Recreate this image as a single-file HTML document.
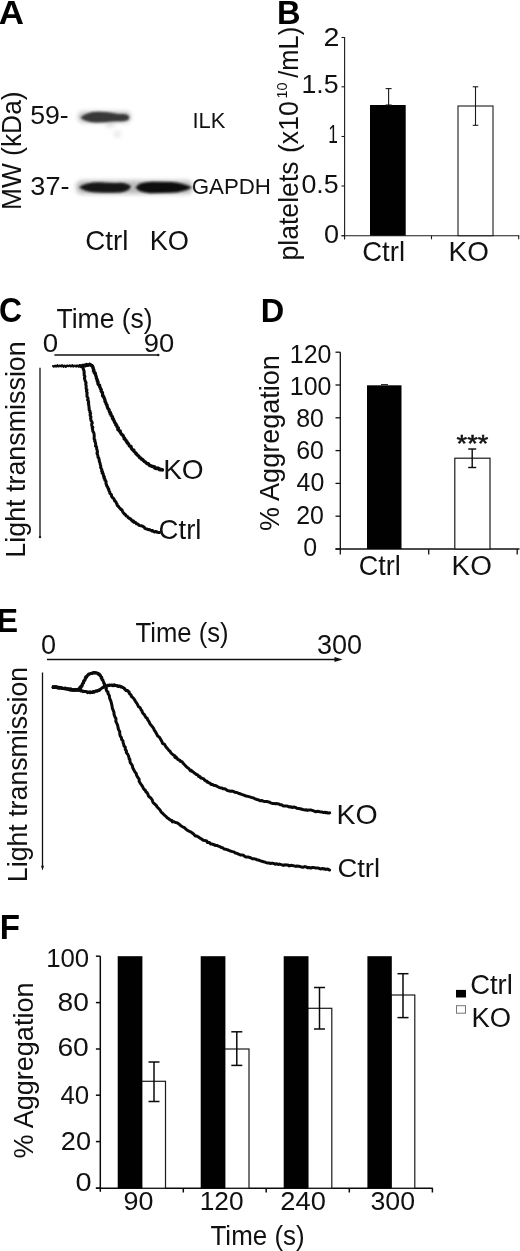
<!DOCTYPE html>
<html><head><meta charset="utf-8"><title>Figure</title>
<style>
html,body{margin:0;padding:0;background:#fff;}
body{width:520px;height:1251px;overflow:hidden;}
svg{display:block;font-family:"Liberation Sans",sans-serif;}
</style></head><body>
<svg width="520" height="1251" viewBox="0 0 520 1251">
<defs>
<filter id="b1" x="-20%" y="-80%" width="140%" height="260%"><feGaussianBlur stdDeviation="1.3"/></filter>
<filter id="b2" x="-20%" y="-80%" width="140%" height="260%"><feGaussianBlur stdDeviation="2.2"/></filter>
</defs>
<rect width="520" height="1251" fill="#fff"/>
<g opacity="0.999">
<text transform="translate(-1.17,23.50) scale(0.3493,0.3401)" font-size="100" font-weight="bold" fill="#000">A</text>
<text transform="translate(21.20,210.11) rotate(-90) scale(0.2641,0.2733)" font-size="100" fill="#111">MW (kDa)</text>
<text transform="translate(30.13,124.30) scale(0.2669,0.2616)" font-size="100" fill="#111">59-</text>
<text transform="translate(30.31,195.00) scale(0.2713,0.2631)" font-size="100" fill="#111">37-</text>
<text transform="translate(192.53,128.00) scale(0.2193,0.2195)" font-size="100" fill="#111">ILK</text>
<text transform="translate(191.68,194.30) scale(0.2231,0.2297)" font-size="100" fill="#111">GAPDH</text>
<text transform="translate(85.31,250.30) scale(0.2771,0.2689)" font-size="100" fill="#111">Ctrl</text>
<text transform="translate(149.72,250.30) scale(0.2722,0.2689)" font-size="100" fill="#111">KO</text>
<g filter="url(#b2)" opacity="0.45">
<rect x="78" y="111.5" width="53" height="11" rx="5" fill="#777"/>
<rect x="76" y="180.5" width="117" height="13.5" rx="6" fill="#666"/>
<ellipse cx="117.5" cy="134" rx="3.5" ry="3.5" fill="#ccc"/>
<ellipse cx="110" cy="125" rx="4" ry="2" fill="#aaa"/>
</g>
<g filter="url(#b1)">
<path d="M80.5,117.6 Q87,111.6 99,111.8 Q111,112.4 118,113.9 L124,114 Q129.3,114.8 129.3,117.8 Q128.8,121 123,121.2 L112,121.6 Q100,123 92,122.2 Q84,121.2 80.5,117.6 Z" fill="#383838"/>
<path d="M79,187.3 Q86,182 100,182.2 Q112,183.3 120,182.7 Q128.5,183 131,186.6 Q129,191.8 120,192.4 Q108,193.2 98,192.6 Q86,192.6 79,187.3 Z" fill="#181818"/>
<path d="M135.5,187.5 Q139,182 152,181.7 L172,182 Q184,183 192,187.6 Q184,192.2 172,192.8 L150,193.2 Q139,192.6 135.5,187.5 Z" fill="#0e0e0e"/>
</g>
<text transform="translate(277.08,23.50) scale(0.3262,0.3401)" font-size="100" font-weight="bold" fill="#000">B</text>
<line x1="344.60" y1="37.00" x2="344.60" y2="239.50" stroke="#1a1a1a" stroke-width="1.1"/>
<line x1="341.50" y1="235.70" x2="519.30" y2="235.70" stroke="#1a1a1a" stroke-width="1.1"/>
<line x1="341.50" y1="37.50" x2="344.60" y2="37.50" stroke="#1a1a1a" stroke-width="1.1"/>
<text transform="translate(323.57,45.50) scale(0.2857,0.2616)" font-size="100" fill="#111">2</text>
<line x1="341.50" y1="86.80" x2="344.60" y2="86.80" stroke="#1a1a1a" stroke-width="1.1"/>
<text transform="translate(301.49,92.50) scale(0.2675,0.2616)" font-size="100" fill="#111">1.5</text>
<line x1="341.50" y1="136.50" x2="344.60" y2="136.50" stroke="#1a1a1a" stroke-width="1.1"/>
<text transform="translate(328.21,142.50) scale(0.1724,0.2616)" font-size="100" fill="#111">1</text>
<line x1="341.50" y1="186.00" x2="344.60" y2="186.00" stroke="#1a1a1a" stroke-width="1.1"/>
<text transform="translate(301.43,192.50) scale(0.2679,0.2616)" font-size="100" fill="#111">0.5</text>
<line x1="341.50" y1="235.70" x2="344.60" y2="235.70" stroke="#1a1a1a" stroke-width="1.1"/>
<text transform="translate(323.92,243.00) scale(0.2708,0.2616)" font-size="100" fill="#111">0</text>
<line x1="431.50" y1="235.70" x2="431.50" y2="239.30" stroke="#1a1a1a" stroke-width="1.1"/>
<line x1="518.70" y1="235.70" x2="518.70" y2="239.30" stroke="#1a1a1a" stroke-width="1.1"/>
<rect x="370.00" y="105.00" width="35.70" height="130.70" fill="#000"/>
<line x1="388.60" y1="88.60" x2="388.60" y2="105.00" stroke="#1a1a1a" stroke-width="1.1"/>
<line x1="385.60" y1="88.60" x2="391.60" y2="88.60" stroke="#1a1a1a" stroke-width="1.1"/>
<line x1="385.60" y1="105.00" x2="391.60" y2="105.00" stroke="#1a1a1a" stroke-width="1.1"/>
<rect x="458.00" y="106.00" width="35.00" height="129.70" fill="#fff" stroke="#1a1a1a" stroke-width="1.1"/>
<line x1="475.50" y1="86.80" x2="475.50" y2="125.30" stroke="#1a1a1a" stroke-width="1.1"/>
<line x1="472.75" y1="86.80" x2="478.25" y2="86.80" stroke="#1a1a1a" stroke-width="1.1"/>
<line x1="472.75" y1="125.30" x2="478.25" y2="125.30" stroke="#1a1a1a" stroke-width="1.1"/>
<text transform="translate(362.23,261.20) scale(0.2750,0.2704)" font-size="100" fill="#111">Ctrl</text>
<text transform="translate(448.57,261.20) scale(0.2783,0.2747)" font-size="100" fill="#111">KO</text>
<text transform="translate(298.00,260.53) rotate(-90) scale(0.2662,0.2718)" font-size="100" fill="#111">platelets</text>
<text transform="translate(298.00,153.11) rotate(-90) scale(0.2681,0.2718)" font-size="100" fill="#111">(x10</text>
<text transform="translate(286.50,98.48) rotate(-90) scale(0.1440,0.1497)" font-size="100" fill="#111">10</text>
<text transform="translate(298.30,77.70) rotate(-90) scale(0.2543,0.2733)" font-size="100" fill="#111">/mL)</text>
<text transform="translate(-0.98,322.10) scale(0.3191,0.3416)" font-size="100" font-weight="bold" fill="#000">C</text>
<text transform="translate(56.47,327.80) scale(0.2652,0.2733)" font-size="100" fill="#111">Time (s)</text>
<text transform="translate(42.69,351.60) scale(0.2771,0.2616)" font-size="100" fill="#111">0</text>
<text transform="translate(143.77,352.00) scale(0.2738,0.2616)" font-size="100" fill="#111">90</text>
<line x1="54.40" y1="355.00" x2="158.00" y2="355.00" stroke="#111" stroke-width="1.3"/>
<circle cx="158.2" cy="355" r="1.3" fill="#1a1a1a"/>
<line x1="40.00" y1="367.70" x2="40.00" y2="537.00" stroke="#111" stroke-width="1.3"/>
<circle cx="40" cy="537" r="1.2" fill="#1a1a1a"/>
<text transform="translate(25.00,557.65) rotate(-90) scale(0.2687,0.2791)" font-size="100" fill="#111">Light transmission</text>
<text transform="translate(163.16,479.20) scale(0.2806,0.2791)" font-size="100" fill="#111">KO</text>
<text transform="translate(158.62,538.50) scale(0.2757,0.2689)" font-size="100" fill="#111">Ctrl</text>
<path d="M53.0,366.0 L53.8,366.7 L54.5,365.9 L55.2,365.6 L56.0,366.7 L56.8,366.0 L57.5,365.1 L58.2,366.5 L59.0,366.4 L59.8,365.5 L60.5,365.8 L61.2,366.5 L62.0,365.2 L62.8,365.9 L63.5,366.8 L64.2,365.5 L65.0,365.7 L65.8,366.9 L66.5,366.4 L67.2,365.4 L68.0,366.0 L68.8,366.2 L69.5,365.4 L70.2,365.5 L71.0,366.5 L71.8,365.6 L72.5,365.1 L73.2,366.6 L74.0,366.1 L74.8,365.5 L75.5,366.3 L76.2,366.6 L77.0,365.4 L77.8,366.0 L78.5,366.7 L79.2,365.5 L80.0,365.9 L80.8,367.0 L81.5,366.3 L82.2,365.5" fill="none" stroke="#0a0a0a" stroke-width="2.1" stroke-linejoin="round" stroke-linecap="round"/>
<path d="M81.7,366.0 L82.1,366.1 L82.7,365.4 L82.4,366.2 L83.0,365.4 L84.3,365.6 L84.6,365.5 L84.8,365.1 L85.3,365.8 L85.6,365.5 L86.2,364.7 L86.7,365.2 L86.6,364.5 L87.6,364.9 L87.9,365.3 L88.3,365.2 L88.4,365.0 L88.8,365.1 L89.7,364.2 L89.3,364.3 L90.5,364.6 L90.4,364.6 L90.6,364.7 L90.7,365.0 L91.2,365.5 L91.5,365.7 L91.9,365.9 L91.9,365.3 L92.4,366.5 L92.7,366.5 L92.7,366.7 L93.2,367.8 L92.9,368.0 L93.9,370.0 L93.4,370.8 L94.1,371.1 L94.3,372.9 L95.3,373.2 L95.4,374.3 L95.9,375.8 L96.4,377.5 L96.4,378.6 L96.6,378.6 L97.3,379.6 L97.2,381.1 L98.1,381.8 L97.9,383.7 L98.6,384.8 L99.6,385.3 L99.6,386.5 L100.2,387.6 L100.5,388.7 L101.3,389.6 L101.1,390.8 L101.3,391.4 L102.5,392.7 L102.4,393.2 L102.7,394.8 L102.6,395.9 L103.7,396.4 L104.1,398.0 L104.6,399.0 L105.1,400.6 L104.9,401.1 L106.1,403.3 L106.1,404.0 L107.0,405.1 L107.2,406.4 L107.7,407.9 L108.1,408.8 L109.0,409.5 L109.3,411.3 L109.4,411.7 L110.4,412.6 L110.1,413.8 L111.1,414.3 L111.1,415.4 L112.1,416.4 L112.5,416.9 L112.4,418.3 L113.4,418.9 L113.1,419.5 L113.9,420.4 L114.7,422.0 L114.4,422.2 L115.6,423.5 L116.0,424.0 L115.7,424.8 L116.9,425.6 L116.9,426.6 L117.4,427.4 L118.4,427.9 L117.8,429.6 L119.2,430.4 L119.2,431.1 L120.2,431.0 L120.4,432.4 L120.8,432.8 L120.8,433.3 L121.2,433.8 L122.1,434.8 L122.9,435.2 L123.5,436.7 L124.0,437.7 L124.6,438.1 L124.2,439.0 L124.9,439.3 L126.0,440.3 L126.3,441.5 L127.1,441.6 L127.2,442.9 L128.0,443.6 L128.4,443.7 L129.1,445.1 L129.3,445.8 L130.6,446.6 L131.0,446.5 L131.4,448.1 L131.3,448.2 L132.1,449.3 L132.9,450.0 L133.9,450.2 L133.8,451.1 L134.6,451.9 L136.3,453.5 L136.0,453.9 L137.0,454.5 L137.8,455.6 L138.7,456.0 L139.0,456.7 L139.6,457.6 L140.9,458.0 L140.8,458.3 L141.7,459.3 L142.8,459.6 L143.4,460.4 L143.5,460.6 L144.2,461.4 L144.7,461.8 L145.3,461.8 L146.0,462.7 L146.2,462.9 L147.2,463.8 L148.4,463.7 L149.0,464.6 L149.0,464.6 L149.5,465.4 L150.8,465.9 L151.6,466.0 L152.1,466.2 L152.1,466.6 L152.5,466.4 L154.0,466.6 L153.8,466.9 L155.2,467.2 L154.8,468.2 L155.5,468.4 L156.6,468.6 L157.4,468.5 L157.8,468.1 L158.3,468.8 L158.8,468.5 L159.4,469.6 L159.2,469.1 L160.3,469.8 L160.6,469.2 L161.1,469.8 L162.2,469.6 L162.2,469.7 L162.5,469.8 L162.5,470.0" fill="none" stroke="#0a0a0a" stroke-width="3.3" stroke-linejoin="round" stroke-linecap="round"/>
<path d="M79.7,365.6 L80.0,365.7 L79.9,366.0 L81.0,366.4 L81.1,365.8 L81.2,365.9 L81.1,365.8 L81.5,366.7 L82.4,366.8 L82.6,366.4 L82.3,367.1 L82.9,367.7 L83.2,367.3 L83.1,368.3 L83.1,368.3 L83.2,368.7 L83.8,370.1 L83.6,370.2 L84.1,371.2 L84.2,372.4 L84.0,372.9 L84.3,374.0 L84.1,375.2 L84.9,376.3 L84.4,378.4 L84.9,379.9 L85.3,381.3 L86.1,382.7 L85.7,384.3 L86.2,385.9 L86.1,387.7 L86.3,388.9 L87.0,389.7 L86.4,391.1 L87.2,392.8 L86.9,393.7 L87.0,395.1 L87.0,396.5 L88.0,398.0 L88.1,399.2 L87.5,399.8 L88.7,401.5 L88.3,403.0 L88.7,404.1 L88.6,404.7 L88.9,405.9 L89.1,408.0 L89.2,408.3 L89.1,409.7 L90.1,411.2 L89.8,412.1 L90.7,413.6 L90.1,414.4 L90.2,415.7 L91.0,416.8 L90.6,418.3 L91.0,420.0 L91.0,420.6 L91.9,421.7 L92.3,422.9 L91.7,423.9 L91.7,425.0 L92.1,426.6 L92.9,427.3 L92.2,428.1 L92.6,429.2 L92.8,430.9 L92.8,431.2 L93.8,432.8 L94.0,433.8 L94.2,435.2 L94.2,436.4 L94.2,436.9 L94.1,438.9 L95.0,440.1 L94.6,441.0 L95.3,442.2 L95.6,443.3 L95.7,444.7 L95.5,446.2 L96.5,446.6 L96.7,448.7 L96.7,449.1 L97.2,450.5 L97.5,452.4 L96.9,453.2 L97.7,455.0 L98.1,456.6 L97.9,457.0 L98.9,458.3 L99.1,459.6 L99.4,461.5 L99.7,462.4 L100.1,463.2 L100.2,464.5 L100.8,466.0 L100.7,466.9 L100.6,467.4 L101.5,468.9 L102.0,470.1 L101.6,470.9 L102.6,472.0 L102.1,473.2 L103.2,473.4 L103.2,474.6 L103.7,475.3 L103.5,476.4 L104.5,476.8 L104.0,478.3 L105.0,479.1 L104.9,480.4 L105.6,480.6 L106.1,481.7 L105.9,483.5 L106.5,484.5 L106.6,485.7 L107.0,486.1 L107.8,487.4 L108.2,489.0 L108.8,489.1 L108.8,490.5 L109.4,491.6 L109.8,491.8 L109.9,493.3 L110.4,494.0 L111.4,494.5 L111.5,495.2 L111.5,496.2 L112.1,496.9 L112.4,497.6 L113.3,498.1 L113.4,498.4 L114.2,499.4 L114.5,499.9 L114.4,500.7 L115.6,501.5 L116.2,502.5 L116.4,503.3 L117.0,503.8 L117.3,505.4 L117.7,506.0 L118.5,506.4 L118.8,507.0 L120.4,508.7 L121.0,509.6 L121.9,509.8 L122.3,511.0 L123.0,512.3 L123.9,513.2 L123.9,513.6 L125.2,514.4 L125.8,515.2 L126.1,515.9 L126.8,516.2 L127.8,516.8 L127.8,516.9 L128.4,517.8 L129.7,518.6 L129.7,518.5 L130.7,518.9 L130.9,519.1 L131.3,520.1 L132.4,520.6 L132.7,521.4 L133.6,521.0 L133.7,522.2 L135.2,522.6 L135.5,522.4 L135.7,522.7 L136.5,523.8 L137.9,524.1 L137.9,524.0 L138.9,525.2 L139.6,525.5 L141.1,525.7 L142.2,525.9 L142.7,526.3 L143.2,526.6 L144.2,527.1 L144.8,528.4 L145.8,528.7 L146.9,528.9 L147.5,529.4 L148.3,529.4 L148.6,529.7 L149.3,529.8 L149.7,529.6 L150.5,530.2 L150.3,530.1 L151.7,530.4 L151.9,531.0 L153.1,530.8 L153.3,531.1 L153.8,531.7 L154.6,532.0 L155.5,531.4 L157.0,532.2 L157.1,532.0 L158.0,532.3 L158.3,532.5 L159.5,532.5" fill="none" stroke="#0a0a0a" stroke-width="3.0" stroke-linejoin="round" stroke-linecap="round"/>
<text transform="translate(260.69,322.00) scale(0.3252,0.3358)" font-size="100" font-weight="bold" fill="#000">D</text>
<line x1="340.30" y1="352.20" x2="340.30" y2="554.50" stroke="#111" stroke-width="1.3"/>
<line x1="335.50" y1="549.00" x2="519.50" y2="549.00" stroke="#111" stroke-width="1.3"/>
<line x1="335.50" y1="352.20" x2="340.30" y2="352.20" stroke="#111" stroke-width="1.3"/>
<text transform="translate(289.86,362.60) scale(0.9850,1)" font-size="25.3" fill="#111">120</text>
<line x1="335.50" y1="385.00" x2="340.30" y2="385.00" stroke="#111" stroke-width="1.3"/>
<text transform="translate(289.86,394.60) scale(0.9850,1)" font-size="25.3" fill="#111">100</text>
<line x1="335.50" y1="417.80" x2="340.30" y2="417.80" stroke="#111" stroke-width="1.3"/>
<text transform="translate(296.24,426.60) scale(0.9850,1)" font-size="25.3" fill="#111">80</text>
<line x1="335.50" y1="450.60" x2="340.30" y2="450.60" stroke="#111" stroke-width="1.3"/>
<text transform="translate(296.18,459.00) scale(0.9850,1)" font-size="25.3" fill="#111">60</text>
<line x1="335.50" y1="483.40" x2="340.30" y2="483.40" stroke="#111" stroke-width="1.3"/>
<text transform="translate(296.56,491.40) scale(0.9850,1)" font-size="25.3" fill="#111">40</text>
<line x1="335.50" y1="516.20" x2="340.30" y2="516.20" stroke="#111" stroke-width="1.3"/>
<text transform="translate(296.18,524.00) scale(0.9850,1)" font-size="25.3" fill="#111">20</text>
<line x1="335.50" y1="549.00" x2="340.30" y2="549.00" stroke="#111" stroke-width="1.3"/>
<text transform="translate(303.22,555.80) scale(0.9850,1)" font-size="25.3" fill="#111">0</text>
<line x1="428.70" y1="549.00" x2="428.70" y2="554.50" stroke="#111" stroke-width="1.3"/>
<line x1="517.20" y1="549.00" x2="517.20" y2="554.50" stroke="#111" stroke-width="1.3"/>
<rect x="367.00" y="385.30" width="34.50" height="163.70" fill="#000"/>
<line x1="381.00" y1="384.60" x2="388.00" y2="384.60" stroke="#1a1a1a" stroke-width="1"/>
<rect x="454.80" y="458.20" width="35.20" height="90.80" fill="#fff" stroke="#1a1a1a" stroke-width="1.2"/>
<line x1="472.20" y1="449.00" x2="472.20" y2="467.50" stroke="#0a0a0a" stroke-width="1.4"/>
<line x1="468.20" y1="449.00" x2="476.20" y2="449.00" stroke="#0a0a0a" stroke-width="1.4"/>
<line x1="468.20" y1="467.50" x2="476.20" y2="467.50" stroke="#0a0a0a" stroke-width="1.4"/>
<text stroke="#111" stroke-width="2.2" transform="translate(456.59,451.55) scale(0.2719,0.2457)" font-size="100" fill="#111">***</text>
<text transform="translate(358.75,575.20) scale(0.2701,0.2718)" font-size="100" fill="#111">Ctrl</text>
<text transform="translate(451.57,575.20) scale(0.2791,0.2762)" font-size="100" fill="#111">KO</text>
<text transform="translate(279.00,530.95) rotate(-90) scale(0.2703,0.2791)" font-size="100" fill="#111">% Aggregation</text>
<text transform="translate(-3.61,631.50) scale(0.3239,0.3401)" font-size="100" font-weight="bold" fill="#000">E</text>
<text transform="translate(135.49,642.00) scale(0.2567,0.2762)" font-size="100" fill="#111">Time (s)</text>
<text transform="translate(40.92,653.60) scale(0.2708,0.2791)" font-size="100" fill="#111">0</text>
<text transform="translate(316.92,653.60) scale(0.2704,0.2791)" font-size="100" fill="#111">300</text>
<line x1="47.00" y1="659.50" x2="336.00" y2="659.50" stroke="#111" stroke-width="1.5"/>
<path d="M342.6,659.5 L334.5,657 L334.5,662 Z" fill="#111"/>
<line x1="42.50" y1="672.50" x2="42.50" y2="866.50" stroke="#111" stroke-width="1.3"/>
<path d="M42.5,870.5 L41,865.8 L44,865.8 Z" fill="#111"/>
<text transform="translate(27.30,882.14) rotate(-90) scale(0.2672,0.2791)" font-size="100" fill="#111">Light transmission</text>
<text transform="translate(336.52,823.90) scale(0.2852,0.2747)" font-size="100" fill="#111">KO</text>
<text transform="translate(337.43,877.30) scale(0.2743,0.2631)" font-size="100" fill="#111">Ctrl</text>
<path d="M53.0,687.3 L53.5,687.6 L53.8,687.6 L53.5,687.2 L54.9,687.4 L55.4,686.9 L55.6,687.1 L56.2,687.5 L56.3,687.2 L57.2,688.0 L58.3,687.3 L58.9,687.3 L59.4,687.3 L59.4,688.2 L60.3,687.6 L61.8,688.3 L61.8,688.4 L62.7,688.2 L63.0,688.6 L64.2,688.7 L65.0,688.1 L65.0,688.1 L65.4,688.1 L66.1,688.8 L66.3,689.0 L67.1,688.7 L68.1,689.0 L68.1,689.2 L69.0,688.9 L69.9,688.9 L70.2,689.8 L70.2,689.9 L71.2,689.8 L71.5,689.3 L72.4,690.3 L73.2,690.2 L74.7,690.4 L74.8,689.9 L75.7,690.3 L75.9,690.2 L77.2,690.2 L77.0,690.1 L77.6,689.2 L78.6,689.5 L78.8,689.1 L79.5,688.2 L79.7,687.6 L79.9,687.2 L80.9,687.6 L80.8,686.2 L82.0,686.2 L81.7,685.5 L82.2,685.6 L82.4,684.6 L82.2,684.6 L82.4,683.6 L83.5,682.7 L83.6,683.0 L83.7,682.3 L83.4,681.4 L83.6,681.3 L84.0,680.5 L84.9,680.4 L85.1,679.6 L84.9,679.5 L85.1,678.6 L85.2,678.0 L85.4,678.5 L86.2,677.8 L86.0,677.1 L85.8,676.7 L86.7,676.9 L86.6,676.5 L87.3,676.1 L87.4,675.8 L87.4,675.5 L87.6,675.0 L88.4,674.9 L88.2,674.9 L88.8,674.3 L88.5,674.0 L89.1,674.0 L89.6,674.0 L90.1,673.8 L90.1,673.5 L90.9,673.6 L90.8,673.5 L91.7,673.3 L92.1,673.5 L92.0,673.0 L92.0,673.2 L93.1,672.8 L93.1,673.0 L93.5,672.5 L93.9,672.9 L94.1,672.7 L94.4,673.1 L94.7,673.0 L94.4,672.5 L95.1,673.0 L95.2,673.1 L95.9,672.5 L96.1,672.7 L96.0,672.7 L96.6,672.8 L96.7,672.7 L97.3,673.1 L97.8,673.4 L97.7,673.9 L97.7,673.5 L98.3,673.7 L98.4,674.4 L98.9,673.8 L99.4,674.1 L99.6,674.7 L99.9,675.6 L100.4,675.4 L100.6,676.0 L100.4,675.9 L100.9,676.7 L101.5,677.5 L101.3,677.2 L101.8,677.2 L101.2,678.1 L101.8,678.0 L102.0,679.2 L101.9,679.1 L101.9,679.4 L102.9,680.1 L103.2,681.2 L103.1,681.3 L103.8,682.3 L103.7,682.9 L104.7,684.0 L104.4,684.9 L104.7,686.1 L105.5,686.8 L106.4,688.5 L106.1,689.5 L106.9,691.3 L108.0,692.0 L108.0,693.6 L109.3,695.5 L109.5,697.6 L110.2,699.7 L110.9,701.2 L111.5,703.6 L112.0,705.7 L112.3,708.1 L113.1,710.1 L114.0,712.4 L114.0,714.2 L115.0,717.0 L116.0,718.8 L115.8,721.3 L116.8,723.3 L117.7,725.6 L118.1,728.0 L118.6,729.7 L119.7,731.5 L119.8,734.1 L120.2,736.0 L121.4,737.4 L121.6,739.6 L122.9,740.6 L123.1,742.7 L123.7,744.2 L124.0,746.0 L125.3,747.1 L125.3,749.5 L126.5,751.0 L126.3,752.6 L127.9,754.4 L128.1,755.0 L128.8,756.7 L129.2,758.9 L129.9,759.5 L130.0,761.8 L130.5,763.1 L131.5,764.2 L132.4,765.7 L132.7,767.8 L133.5,769.3 L134.9,771.9 L136.1,773.2 L136.6,775.3 L137.8,777.4 L139.1,779.2 L139.2,781.4 L140.2,783.1 L141.5,785.0 L142.5,786.3 L143.1,787.7 L144.0,789.4 L145.2,790.1 L145.8,791.7 L147.2,792.8 L148.1,794.6 L148.4,796.0 L149.4,796.8 L150.9,798.2 L152.2,799.9 L152.7,801.7 L153.5,803.0 L154.6,803.9 L156.6,805.9 L157.0,806.8 L158.8,808.7 L159.7,809.5 L160.6,811.0 L161.2,812.1 L162.6,813.2 L163.3,814.0 L164.7,815.4 L165.6,816.1 L166.6,817.0 L167.2,817.9 L168.3,818.4 L168.6,818.7 L169.6,819.4 L171.2,820.5 L172.0,820.5 L172.5,821.9 L173.5,821.7 L174.2,821.7 L174.7,822.0 L175.8,822.6 L177.2,822.7 L177.5,823.2 L178.5,823.7 L179.7,824.6 L180.8,825.8 L182.6,826.8 L184.4,827.6 L185.7,829.0 L186.9,829.9 L188.7,831.1 L190.8,831.8 L191.9,832.8 L193.6,834.0 L195.3,835.9 L196.8,836.1 L198.5,837.0 L200.3,838.4 L201.2,838.7 L203.3,840.3 L204.8,840.6 L206.7,840.9 L207.3,842.4 L209.2,842.4 L210.8,844.1 L212.3,844.1 L213.4,844.5 L215.8,845.5 L217.3,845.6 L218.1,846.1 L219.8,846.6 L221.2,847.5 L222.7,847.7 L224.0,849.1 L225.7,849.2 L227.4,849.8 L228.7,850.2 L230.2,851.0 L232.6,851.6 L234.1,851.9 L234.8,852.8 L236.8,853.4 L238.3,854.0 L240.2,854.9 L241.3,854.9 L243.4,855.3 L244.2,855.9 L245.7,856.9 L248.0,856.9 L248.9,857.2 L250.6,857.7 L252.3,858.7 L253.7,858.7 L255.7,859.1 L256.7,859.8 L258.4,860.0 L260.0,860.6 L261.9,861.3 L263.5,861.7 L264.9,862.0 L266.1,862.6 L267.9,863.1 L269.5,863.1 L270.5,863.5 L272.2,863.1 L273.4,863.4 L275.1,864.2 L276.7,863.8 L278.7,864.5 L279.5,864.1 L281.2,864.6 L283.4,865.4 L284.7,864.8 L286.1,865.1 L287.5,864.9 L289.3,865.9 L291.0,865.3 L292.3,865.5 L294.0,865.9 L295.8,866.4 L296.5,866.1 L298.8,866.3 L299.9,866.5 L301.7,867.1 L303.0,867.3 L304.7,866.6 L306.5,867.0 L307.3,867.8 L308.9,867.5 L311.0,868.0 L312.5,867.5 L314.0,867.6 L315.7,868.0 L317.4,868.0 L318.4,868.1 L320.3,868.9 L321.5,868.8 L322.4,868.5 L324.1,869.0 L324.5,868.8 L325.7,869.4 L327.6,869.0 L328.4,869.3 L329.0,869.9 L329.6,869.9" fill="none" stroke="#0a0a0a" stroke-width="3.0" stroke-linejoin="round" stroke-linecap="round"/>
<path d="M53.2,687.4 L53.2,686.9 L53.1,687.3 L54.0,687.5 L54.4,687.5 L54.8,687.6 L55.8,687.3 L56.2,687.6 L56.5,687.5 L57.7,687.3 L58.3,687.8 L58.9,687.5 L58.8,688.0 L60.2,687.7 L60.2,687.5 L61.4,687.7 L62.4,688.1 L62.4,688.2 L63.2,688.6 L64.4,688.2 L64.7,688.5 L65.5,688.9 L65.3,688.4 L66.4,688.5 L66.9,688.4 L67.7,689.0 L67.4,689.2 L68.1,688.9 L68.8,688.9 L69.1,689.8 L70.2,689.0 L70.9,689.1 L71.1,690.0 L72.1,689.4 L72.6,689.5 L73.0,690.1 L73.7,689.6 L75.1,689.6 L76.0,689.4 L76.7,690.1 L77.1,690.2 L77.5,690.2 L78.5,690.0 L78.8,690.4 L79.3,689.9 L80.2,690.2 L80.6,690.9 L80.9,690.3 L81.4,691.0 L82.3,690.8 L83.0,691.6 L83.4,691.2 L84.6,691.6 L84.7,691.6 L85.5,691.4 L86.1,691.7 L87.1,691.8 L87.6,692.6 L88.5,692.1 L88.7,692.1 L89.1,692.3 L90.0,692.8 L90.0,691.8 L90.7,691.9 L90.8,692.5 L91.3,692.4 L92.0,692.6 L93.0,691.6 L92.8,692.4 L93.7,691.8 L94.3,692.1 L94.5,691.7 L94.5,691.4 L95.0,691.5 L96.0,690.9 L96.5,690.7 L96.4,691.1 L97.2,691.2 L97.8,690.8 L97.7,690.7 L98.1,690.3 L99.3,690.4 L99.6,689.7 L99.8,689.9 L99.6,689.8 L100.7,689.1 L100.9,688.8 L100.7,688.9 L100.8,688.7 L102.1,688.0 L102.4,687.6 L102.8,687.6 L103.3,687.5 L103.6,686.9 L103.2,687.5 L104.2,687.1 L104.0,686.5 L104.8,686.2 L105.9,686.8 L106.2,686.5 L106.0,685.8 L106.8,685.7 L107.0,685.9 L107.4,685.4 L107.3,685.8 L107.7,685.7 L108.1,685.3 L108.5,685.6 L109.1,685.1 L109.3,685.4 L110.4,685.2 L110.0,685.1 L110.5,685.3 L111.4,685.3 L111.2,685.0 L111.8,685.1 L112.1,685.6 L112.7,685.3 L113.2,685.3 L113.7,685.0 L114.0,685.7 L113.9,685.4 L114.5,684.8 L114.5,685.6 L115.0,685.6 L115.4,685.4 L115.8,685.6 L117.0,685.4 L117.2,686.2 L117.3,685.9 L118.2,686.4 L118.1,686.3 L118.6,685.9 L119.9,685.9 L120.4,686.8 L120.6,686.9 L121.1,686.6 L121.4,686.7 L122.3,687.5 L122.8,687.2 L123.1,687.5 L123.8,688.2 L124.5,688.5 L124.7,688.9 L124.6,689.1 L125.1,689.2 L125.7,690.2 L126.1,690.6 L127.5,690.5 L127.9,690.6 L127.6,691.0 L128.0,691.4 L129.2,691.9 L129.3,692.5 L129.2,693.1 L129.6,694.0 L130.1,694.1 L130.7,694.7 L131.1,695.0 L131.3,696.4 L132.0,696.8 L133.3,698.0 L134.3,699.4 L134.7,700.1 L135.7,701.8 L136.9,703.4 L137.8,705.2 L138.5,706.7 L140.0,707.5 L141.0,709.7 L141.9,710.6 L142.2,711.8 L143.2,713.8 L144.1,714.3 L144.9,715.7 L146.1,717.7 L147.3,718.3 L147.7,719.8 L149.2,721.9 L149.8,723.5 L150.8,724.9 L151.9,726.1 L153.6,728.4 L154.4,730.3 L155.7,732.2 L156.4,733.5 L157.7,736.0 L159.6,737.4 L160.6,739.2 L162.0,741.7 L162.6,743.5 L164.3,744.1 L165.2,745.6 L166.7,747.8 L167.3,748.4 L168.9,750.4 L170.1,751.2 L170.6,752.5 L171.9,753.8 L173.0,754.7 L174.3,755.5 L175.0,756.0 L174.8,757.2 L175.4,757.8 L176.4,757.4 L176.8,758.4 L177.4,758.7 L177.7,759.3 L178.5,759.7 L178.9,760.0 L180.0,760.4 L180.3,761.3 L182.0,761.7 L182.6,762.5 L184.1,764.4 L184.8,764.9 L185.2,765.5 L186.8,767.1 L188.0,768.0 L188.3,768.2 L189.2,769.0 L190.0,770.2 L190.5,770.8 L191.4,770.4 L192.0,771.4 L192.4,771.2 L193.2,772.0 L193.5,772.1 L193.6,772.4 L194.4,773.1 L195.1,773.4 L196.4,774.6 L197.5,774.7 L198.3,775.7 L198.6,776.6 L199.9,776.6 L200.7,778.0 L201.7,778.1 L203.0,778.7 L203.9,779.0 L204.5,780.1 L205.4,780.6 L205.7,781.1 L207.0,781.3 L207.2,782.1 L207.3,781.9 L208.5,782.3 L208.5,782.7 L209.7,783.2 L210.3,783.2 L210.6,784.1 L211.6,784.6 L212.8,784.5 L213.5,785.3 L215.1,785.5 L216.1,785.7 L217.4,786.5 L218.8,787.3 L220.6,787.9 L221.9,787.9 L223.0,788.8 L224.8,788.8 L225.4,789.1 L227.3,790.4 L228.5,790.8 L230.5,791.3 L232.3,791.1 L233.8,791.6 L234.8,792.3 L236.8,792.5 L238.3,793.2 L239.9,793.7 L241.6,794.4 L243.8,795.2 L246.0,796.0 L247.8,796.4 L249.8,796.9 L251.3,797.4 L253.6,798.0 L255.0,798.8 L257.1,799.5 L258.8,800.0 L260.0,800.7 L262.1,800.6 L263.2,801.1 L264.5,801.5 L266.7,801.6 L267.8,801.8 L269.7,802.2 L270.6,802.9 L272.2,803.4 L273.7,803.4 L275.2,803.8 L276.9,803.6 L278.8,804.0 L280.1,804.8 L281.5,804.8 L283.0,805.8 L284.1,806.0 L286.3,805.9 L287.8,806.3 L289.6,807.0 L290.8,806.7 L292.2,807.5 L293.8,807.0 L295.4,807.4 L296.7,808.2 L298.5,808.4 L300.3,808.7 L301.9,809.2 L302.8,809.5 L304.4,809.9 L306.3,809.7 L307.5,810.4 L309.3,809.9 L311.3,810.1 L312.2,810.4 L314.3,811.2 L315.7,811.8 L317.1,811.3 L319.0,811.4 L319.4,811.7 L321.6,812.0 L322.3,812.1 L323.6,812.6 L325.1,812.2 L325.8,812.8 L327.2,812.6 L327.8,813.1 L328.9,813.1 L329.7,812.8" fill="none" stroke="#0a0a0a" stroke-width="3.0" stroke-linejoin="round" stroke-linecap="round"/>
<rect x="52" y="685.2" width="5.5" height="3.8" fill="#0a0a0a"/>
<text transform="translate(-0.25,938.50) scale(0.3314,0.3416)" font-size="100" font-weight="bold" fill="#000">F</text>
<line x1="100.30" y1="956.20" x2="100.30" y2="1191.80" stroke="#0a0a0a" stroke-width="1.5"/>
<line x1="95.90" y1="1188.20" x2="432.80" y2="1188.20" stroke="#0a0a0a" stroke-width="1.5"/>
<line x1="95.90" y1="956.20" x2="100.30" y2="956.20" stroke="#0a0a0a" stroke-width="1.5"/>
<text transform="translate(46.17,966.90) scale(0.2579,0.2602)" font-size="100" fill="#111">100</text>
<line x1="95.90" y1="1002.60" x2="100.30" y2="1002.60" stroke="#0a0a0a" stroke-width="1.5"/>
<text transform="translate(57.53,1010.70) scale(0.2816,0.2602)" font-size="100" fill="#111">80</text>
<line x1="95.90" y1="1049.00" x2="100.30" y2="1049.00" stroke="#0a0a0a" stroke-width="1.5"/>
<text transform="translate(57.39,1055.70) scale(0.2829,0.2602)" font-size="100" fill="#111">60</text>
<line x1="95.90" y1="1095.20" x2="100.30" y2="1095.20" stroke="#0a0a0a" stroke-width="1.5"/>
<text transform="translate(60.38,1104.30) scale(0.2588,0.2602)" font-size="100" fill="#111">40</text>
<line x1="95.90" y1="1141.60" x2="100.30" y2="1141.60" stroke="#0a0a0a" stroke-width="1.5"/>
<text transform="translate(60.84,1149.70) scale(0.2712,0.2602)" font-size="100" fill="#111">20</text>
<line x1="95.90" y1="1188.20" x2="100.30" y2="1188.20" stroke="#0a0a0a" stroke-width="1.5"/>
<text transform="translate(75.44,1190.70) scale(0.2896,0.2602)" font-size="100" fill="#111">0</text>
<line x1="183.30" y1="1188.20" x2="183.30" y2="1192.50" stroke="#0a0a0a" stroke-width="1.5"/>
<line x1="266.20" y1="1188.20" x2="266.20" y2="1192.50" stroke="#0a0a0a" stroke-width="1.5"/>
<line x1="349.30" y1="1188.20" x2="349.30" y2="1192.50" stroke="#0a0a0a" stroke-width="1.5"/>
<line x1="432.40" y1="1188.20" x2="432.40" y2="1192.50" stroke="#0a0a0a" stroke-width="1.5"/>
<rect x="141.40" y="1081.30" width="24.10" height="106.90" fill="#fff" stroke="#1a1a1a" stroke-width="1.2"/>
<rect x="117.70" y="956.20" width="24.70" height="232.00" fill="#000"/>
<line x1="154.00" y1="1062.00" x2="154.00" y2="1101.50" stroke="#0a0a0a" stroke-width="1.5"/>
<line x1="148.50" y1="1062.00" x2="159.50" y2="1062.00" stroke="#0a0a0a" stroke-width="1.5"/>
<line x1="148.50" y1="1101.50" x2="159.50" y2="1101.50" stroke="#0a0a0a" stroke-width="1.5"/>
<rect x="224.40" y="1049.00" width="24.60" height="139.20" fill="#fff" stroke="#1a1a1a" stroke-width="1.2"/>
<rect x="200.70" y="956.20" width="24.70" height="232.00" fill="#000"/>
<line x1="236.80" y1="1031.80" x2="236.80" y2="1065.40" stroke="#0a0a0a" stroke-width="1.5"/>
<line x1="231.30" y1="1031.80" x2="242.30" y2="1031.80" stroke="#0a0a0a" stroke-width="1.5"/>
<line x1="231.30" y1="1065.40" x2="242.30" y2="1065.40" stroke="#0a0a0a" stroke-width="1.5"/>
<rect x="307.50" y="1008.30" width="24.30" height="179.90" fill="#fff" stroke="#1a1a1a" stroke-width="1.2"/>
<rect x="283.70" y="956.20" width="24.80" height="232.00" fill="#000"/>
<line x1="319.50" y1="987.50" x2="319.50" y2="1029.00" stroke="#0a0a0a" stroke-width="1.5"/>
<line x1="314.00" y1="987.50" x2="325.00" y2="987.50" stroke="#0a0a0a" stroke-width="1.5"/>
<line x1="314.00" y1="1029.00" x2="325.00" y2="1029.00" stroke="#0a0a0a" stroke-width="1.5"/>
<rect x="390.80" y="995.00" width="24.00" height="193.20" fill="#fff" stroke="#1a1a1a" stroke-width="1.2"/>
<rect x="367.40" y="956.20" width="24.40" height="232.00" fill="#000"/>
<line x1="403.00" y1="973.70" x2="403.00" y2="1017.60" stroke="#0a0a0a" stroke-width="1.5"/>
<line x1="397.50" y1="973.70" x2="408.50" y2="973.70" stroke="#0a0a0a" stroke-width="1.5"/>
<line x1="397.50" y1="1017.60" x2="408.50" y2="1017.60" stroke="#0a0a0a" stroke-width="1.5"/>
<text transform="translate(123.59,1210.40) scale(0.2689,0.2529)" font-size="100" fill="#111">90</text>
<text transform="translate(199.73,1210.40) scale(0.2630,0.2529)" font-size="100" fill="#111">120</text>
<text transform="translate(280.34,1210.40) scale(0.2728,0.2529)" font-size="100" fill="#111">240</text>
<text transform="translate(370.43,1210.40) scale(0.2673,0.2529)" font-size="100" fill="#111">300</text>
<text transform="translate(210.48,1244.60) scale(0.2595,0.2704)" font-size="100" fill="#111">Time (s)</text>
<text transform="translate(33.20,1158.45) rotate(-90) scale(0.2706,0.2733)" font-size="100" fill="#111">% Aggregation</text>
<rect x="456.00" y="989.90" width="10.00" height="7.60" fill="#000"/>
<rect x="456.50" y="1005.70" width="9.00" height="7.50" fill="#fff" stroke="#777" stroke-width="1"/>
<text transform="translate(470.13,994.10) scale(0.2743,0.2776)" font-size="100" fill="#111">Ctrl</text>
<text transform="translate(471.41,1026.60) scale(0.2738,0.2820)" font-size="100" fill="#111">KO</text>
</g>
</svg>
</body></html>
